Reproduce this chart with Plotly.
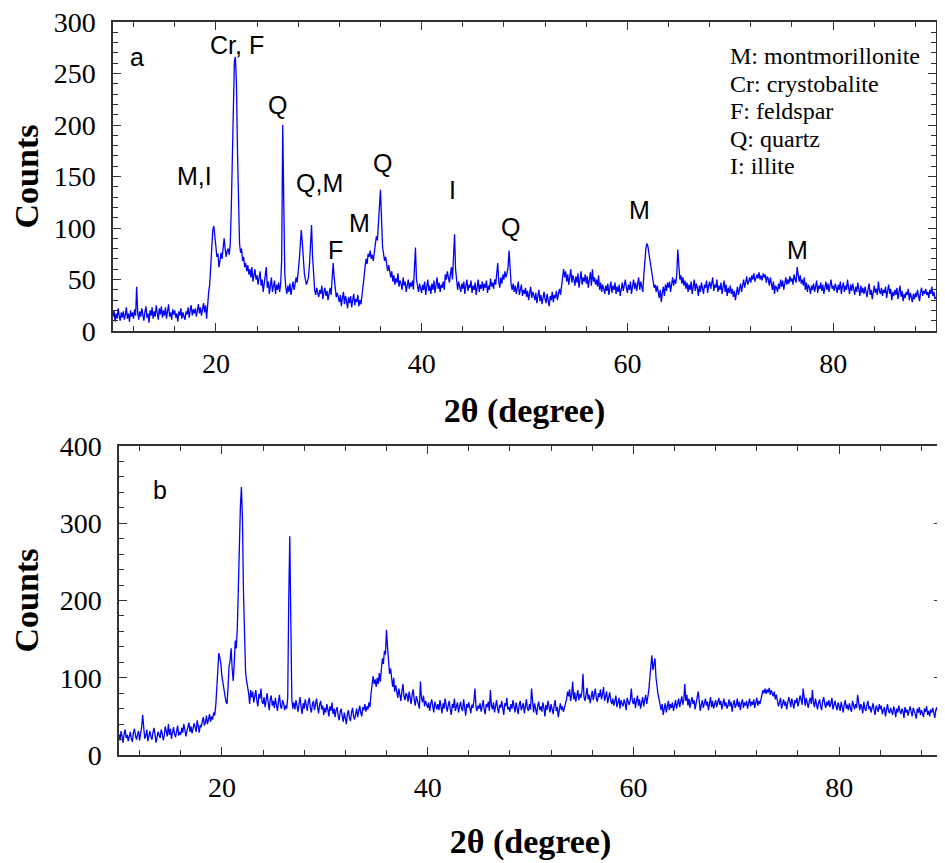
import numpy as np
import plotly.graph_objects as go

# XRD scans, 2theta from 10 to 90 deg in 0.1 deg steps
TWO_THETA_START = 10.0
TWO_THETA_STEP = 0.1

# (a) counts, one row per degree (10.0 ... 89.9) plus the last point at 90.0
COUNTS_A = [
    14, 20, 9, 17, 12, 22, 15, 10, 18, 13,
    19, 11, 16, 23, 12, 17, 9, 20, 14, 18,
    12, 21, 15, 43, 18, 11, 19, 14, 22, 16,
    10, 18, 24, 13, 17, 8, 20, 15, 23, 12,
    19, 14, 25, 17, 11, 22, 16, 24, 13, 20,
    15, 23, 12, 19, 26, 14, 18, 11, 21, 16,
    20, 13, 17, 9, 19, 15, 22, 12, 18, 14,
    11, 19, 16, 23, 13, 20, 25, 15, 21, 17,
    22, 14, 19, 26, 17, 23, 15, 21, 27, 18,
    25, 12, 30, 38, 45, 62, 80, 98, 102, 92,
    82, 72, 75, 62, 68, 76, 70, 85, 90, 80,
    72, 78, 80, 74, 85, 120, 175, 230, 262, 266,
    240, 175, 115, 85, 76, 80, 68, 72, 62, 66,
    58, 64, 55, 60, 52, 62, 48, 56, 60, 50,
    54, 45, 52, 58, 44, 50, 38, 47, 53, 62,
    42, 48, 36, 46, 52, 38, 44, 49, 36, 45,
    40, 47, 38, 46, 70, 200, 125, 55, 42, 36,
    44, 38, 46, 35, 42, 48, 40, 45, 52, 47,
    55, 68, 82, 98, 86, 66, 56, 50, 45, 48,
    52, 65, 90, 103, 72, 50, 40, 35, 42, 37,
    33, 40, 36, 44, 31, 38, 42, 34, 39, 30,
    37, 42, 35, 50, 66, 52, 40, 33, 37, 30,
    28, 35, 24, 32, 38, 26, 34, 29, 22, 33,
    27, 34, 23, 30, 36, 25, 31, 28, 35, 24,
    30, 26, 33, 40, 52, 62, 70, 65, 75, 72,
    78, 70, 74, 68, 76, 80, 92, 88, 105, 122,
    137, 110, 82, 75, 68, 72, 62, 58, 64, 55,
    52, 58, 48, 54, 45, 51, 47, 56, 43, 49,
    46, 40, 52, 44, 48, 38, 45, 50, 41, 47,
    43, 49, 40, 55, 81, 50, 42, 38, 46, 41,
    37, 45, 40, 48, 35, 43, 50, 39, 44, 36,
    46, 40, 49, 37, 44, 52, 41, 47, 38, 45,
    42, 48, 40, 55, 50, 58, 52, 47, 55, 62,
    50, 70, 94, 60, 45, 40, 48, 43, 38, 46,
    41, 48, 36, 44, 50, 39, 45, 42, 49, 37,
    44, 40, 47, 35, 43, 50, 38, 45, 41, 48,
    39, 46, 42, 49, 37, 44, 40, 51, 43, 47,
    41, 50, 45, 58, 66, 48, 42, 52, 46, 55,
    50, 58, 52, 56, 62, 78, 55, 45, 40, 46,
    38, 44, 36, 42, 48, 35, 41, 45, 34, 40,
    36, 42, 33, 39, 30, 37, 43, 32, 38, 35,
    30, 37, 27, 34, 40, 29, 35, 26, 33, 38,
    31, 27, 36, 29, 24, 34, 30, 38, 28, 35,
    32, 39, 30, 36, 41, 35, 43, 55, 60, 52,
    58, 48, 55, 45, 52, 60, 47, 54, 50, 44,
    53, 47, 56, 42, 50, 58, 45, 52, 48, 55,
    46, 53, 42, 50, 57, 44, 60, 48, 52, 45,
    50, 43, 54, 40, 47, 38, 45, 41, 36, 44,
    39, 46, 35, 42, 48, 37, 44, 40, 47, 36,
    43, 38, 45, 34, 41, 47, 39, 44, 50, 42,
    37, 45, 40, 48, 36, 43, 50, 41, 47, 39,
    45, 52, 40, 48, 43, 38, 55, 72, 80, 85,
    82, 75, 68, 62, 52, 48, 42, 45, 38, 44,
    36, 32, 40, 28, 37, 43, 34, 45, 39, 47,
    42, 48, 38, 45, 52, 44, 50, 46, 55, 79,
    58, 50, 54, 46, 52, 44, 49, 41, 47, 38,
    45, 40, 48, 36, 43, 50, 39, 46, 42, 34,
    44, 38, 47, 40, 36, 45, 42, 49, 37, 44,
    48, 41, 46, 52, 39, 45, 42, 50, 38, 44,
    40, 47, 36, 43, 49, 38, 45, 34, 42, 37,
    44, 36, 41, 33, 39, 30, 37, 43, 35, 40,
    46, 38, 44, 50, 42, 47, 53, 45, 49, 52,
    47, 54, 50, 56, 48, 53, 55, 51, 57, 50,
    54, 49, 56, 52, 55, 47, 53, 50, 44, 52,
    46, 40, 48, 36, 44, 42, 38, 46, 41, 50,
    43, 49, 40, 47, 52, 45, 50, 46, 53, 48,
    51, 45, 55, 50, 47, 62, 52, 48, 54, 46,
    50, 44, 52, 40, 47, 38, 45, 42, 36, 44,
    40, 46, 38, 43, 49, 37, 44, 41, 47, 39,
    45, 36, 42, 48, 40, 46, 38, 43, 50, 41,
    44, 39, 46, 42, 37, 45, 40, 48, 36, 43,
    47, 38, 44, 40, 50, 42, 36, 45, 39, 46,
    41, 35, 43, 38, 47, 40, 34, 44, 37, 42,
    36, 43, 39, 33, 41, 46, 35, 40, 31, 38,
    44, 37, 41, 35, 48, 39, 36, 42, 34, 40,
    37, 43, 32, 39, 45, 36, 41, 30, 38, 34,
    40, 35, 42, 31, 37, 44, 33, 39, 29, 36,
    32, 38, 35, 41, 30, 37, 33, 28, 36, 31,
    37, 33, 40, 35, 29, 38, 42, 34, 39, 36,
    41, 35, 38, 32, 40, 36, 43, 34, 38, 31,
    33,
]

# (b) counts, same grid
COUNTS_B = [
    27, 19, 31, 24, 16, 28, 33, 22, 26, 18,
    23, 30, 21, 17, 29, 34, 25, 20, 27, 31,
    19, 28, 36, 52, 30, 21, 25, 33, 18, 27,
    31, 24, 20, 29, 35, 27, 16, 23, 30, 26,
    22, 33, 28, 19, 25, 37, 30, 24, 40, 26,
    34, 21, 29, 36, 27, 23, 31, 38, 25, 30,
    26, 35, 29, 40, 33, 24, 31, 38, 42, 30,
    37, 28, 33, 41, 36, 30, 45, 35, 29, 39,
    36, 44, 49, 38, 42, 51, 40, 46, 53, 43,
    50, 46, 55, 51, 63, 85, 110, 132, 126, 118,
    102, 92, 80, 77, 69, 66, 88, 115, 122, 138,
    112, 96, 118, 148, 138, 165, 215, 285, 322, 347,
    305, 210, 135, 108, 96, 88, 80, 66, 84, 75,
    82, 68, 77, 84, 70, 63, 79, 73, 86, 69,
    66, 75, 62, 71, 80, 68, 58, 72, 77, 64,
    70, 61, 74, 65, 57, 69, 78, 63, 60, 71,
    67, 58, 64, 60, 74, 200, 283, 175, 72, 60,
    68, 59, 71, 64, 56, 66, 75, 62, 53, 67,
    60, 72, 65, 57, 69, 74, 61, 55, 66, 70,
    58, 67, 73, 62, 54, 65, 70, 59, 64, 52,
    61, 55, 66, 59, 50, 63, 57, 68, 53, 60,
    49, 58, 62, 51, 45, 56, 60, 50, 43, 55,
    47, 40, 53, 58, 48, 44, 55, 61, 50, 46,
    53, 60, 49, 57, 64, 55, 50, 62, 58, 66,
    56, 63, 59, 68, 62, 80, 90, 102, 92, 98,
    88, 100, 92, 106, 95, 112, 125, 118, 135, 130,
    162, 140, 120, 105, 112, 96, 88, 100, 82, 90,
    81, 74, 86, 79, 70, 83, 92, 76, 71, 80,
    77, 69, 82, 74, 66, 79, 85, 71, 64, 76,
    72, 66, 60, 95, 74, 68, 77, 63, 70, 65,
    61, 68, 57, 66, 72, 63, 55, 69, 64, 59,
    66, 58, 71, 63, 54, 67, 60, 73, 62, 56,
    64, 70, 59, 52, 66, 61, 73, 57, 63, 68,
    55, 64, 69, 60, 57, 72, 63, 51, 66, 61,
    68, 59, 54, 65, 61, 70, 86, 62, 57, 64,
    60, 67, 56, 63, 71, 58, 53, 66, 62, 69,
    57, 84, 64, 59, 68, 55, 62, 71, 60, 54,
    65, 61, 70, 58, 52, 67, 63, 74, 59, 62,
    56, 66, 60, 71, 64, 55, 68, 61, 53, 65,
    70, 58, 63, 67, 54, 61, 72, 60, 57, 66,
    59, 86, 62, 55, 67, 60, 52, 64, 69, 58,
    63, 56, 68, 61, 50, 65, 58, 70, 62, 55,
    66, 59, 53, 64, 71, 57, 62, 49, 60, 67,
    58, 63, 56, 61, 66, 72, 82, 76, 85, 70,
    78, 95, 72, 81, 69, 77, 84, 71, 79, 74,
    82, 105, 75, 70, 80, 87, 72, 78, 67, 76,
    83, 71, 77, 86, 73, 69, 80, 75, 85, 72,
    79, 88, 70, 76, 82, 67, 75, 81, 71, 66,
    73, 64, 70, 77, 62, 68, 74, 60, 71, 66,
    63, 72, 67, 58, 74, 69, 65, 71, 86, 70,
    66, 74, 61, 70, 77, 64, 72, 60, 68, 75,
    63, 70, 78, 66, 74, 84, 100, 122, 129, 110,
    118, 125, 100, 85, 78, 72, 65, 58, 66, 52,
    60, 67, 55, 64, 70, 58, 66, 61, 68, 57,
    63, 71, 60, 67, 73, 62, 69, 76, 65, 72,
    92, 70, 78, 64, 73, 61, 69, 75, 66, 71,
    59, 68, 74, 82, 70, 57, 65, 71, 61, 68,
    73, 64, 69, 58, 67, 75, 62, 70, 60, 66,
    71, 62, 68, 74, 65, 70, 59, 67, 73, 63,
    68, 60, 64, 72, 63, 69, 56, 66, 71, 61,
    65, 73, 62, 69, 58, 67, 72, 61, 68, 64,
    70, 60, 66, 73, 63, 69, 65, 72, 61, 68,
    74, 64, 70, 66, 73, 78, 84, 80, 86, 79,
    85, 81, 87, 78, 84, 80, 76, 82, 72, 78,
    71, 63, 68, 74, 60, 66, 72, 64, 69, 59,
    66, 75, 70, 62, 73, 64, 60, 71, 67, 74,
    63, 69, 77, 72, 65, 86, 70, 64, 74, 66,
    61, 70, 74, 66, 84, 68, 62, 73, 65, 59,
    67, 72, 63, 58, 70, 75, 66, 61, 69, 64,
    71, 62, 67, 74, 59, 65, 70, 63, 58, 68,
    64, 57, 69, 62, 55, 66, 71, 60, 65, 58,
    67, 60, 56, 70, 63, 59, 66, 61, 78, 64,
    58, 66, 62, 54, 69, 60, 57, 65, 70, 59,
    63, 55, 61, 67, 58, 52, 64, 60, 56, 66,
    59, 64, 53, 58, 62, 50, 60, 66, 57, 54,
    61, 56, 52, 63, 58, 49, 60, 55, 64, 57,
    53, 60, 57, 48, 62, 55, 59, 51, 58, 63,
    56, 50, 61, 58, 53, 47, 60, 55, 62, 52,
    58, 54, 49, 60, 56, 63, 52, 57, 50, 59,
    55, 61, 53, 48, 58, 62, 54, 50, 59, 56,
    55,
]

# phase labels on panel a: (2theta, counts, text)
PEAK_LABELS = [
    (17.97, 150.5, "M,I"),
    (22.05, 277.7, "Cr, F"),
    (26.03, 219.4, "Q"),
    (30.12, 143.7, "Q,M"),
    (31.67, 78.6, "F"),
    (34.0, 104.9, "M"),
    (36.24, 163.1, "Q"),
    (43.04, 136.9, "I"),
    (48.68, 101.0, "Q"),
    (61.2, 117.5, "M"),
    (76.57, 78.6, "M"),
]
KEY_LINES = ["M: montmorillonite", "Cr: crystobalite", "F: feldspar", "Q: quartz", "I: illite"]
KEY_Y = [267, 240, 213.5, 186.5, 160]

W, H = 945, 863
OFF = 8  # the page body has a default 8px margin, shift the plot areas back by it
OFF_Y = 1  # vertically keep a little room so the top "300" label is not cut


def xdom(left, right):
    return [(left - OFF) / W, (right - OFF) / W]


def ydom(top, bottom):
    return [1 - (bottom - OFF_Y) / H, 1 - (top - OFF_Y) / H]


two_theta = np.round(TWO_THETA_START + TWO_THETA_STEP * np.arange(len(COUNTS_A)), 1)

fig = go.Figure()
fig.add_trace(go.Scatter(x=two_theta, y=COUNTS_A, mode="lines",
                         line=dict(color="#0000ff", width=1.3), xaxis="x", yaxis="y"))
fig.add_trace(go.Scatter(x=two_theta, y=COUNTS_B, mode="lines",
                         line=dict(color="#0000ff", width=1.3), xaxis="x2", yaxis="y2"))

serif = "Liberation Serif, Times New Roman, serif"
sans = "Liberation Sans, Arial, sans-serif"
axis_common = dict(
    showline=True, linecolor="#333333", linewidth=1.5, mirror="ticks",
    ticks="inside", ticklen=8, tickwidth=1.2, tickcolor="#333333",
    showgrid=False, zeroline=False, automargin=False, ticklabeloverflow="allow",
    tickfont=dict(family=serif, size=28, color="black"),
)
title_font = dict(family=serif, size=34, color="black")
minor_x = dict(dtick=4, ticks="inside", ticklen=5, tickcolor="#333333")

fig.update_layout(
    width=W, height=H,
    margin=dict(l=0, r=0, t=0, b=0),
    paper_bgcolor="white", plot_bgcolor="white",
    showlegend=False,
    xaxis=dict(domain=xdom(113, 936), range=[10, 90], dtick=20, anchor="y", minor=minor_x,
               ticklabelstandoff=7,
               title=dict(text="<b>2θ (degree)</b>", font=title_font, standoff=20),
               **axis_common),
    yaxis=dict(domain=ydom(15, 324), range=[0, 300], dtick=50, anchor="x",
               minor=dict(dtick=10, ticks="inside", ticklen=5, tickcolor="#333333"),
               ticklabelstandoff=10,
               title=dict(text="<b>Counts</b>", font=title_font, standoff=25),
               **axis_common),
    xaxis2=dict(domain=xdom(119, 942), range=[10, 90], dtick=20, anchor="y2", minor=minor_x,
                ticklabelstandoff=7,
                title=dict(text="<b>2θ (degree)</b>", font=title_font, standoff=27),
                **axis_common),
    yaxis2=dict(domain=ydom(439, 748), range=[0, 400], dtick=100, anchor="x2",
                minor=dict(dtick=20, ticks="inside", ticklen=5, tickcolor="#333333"),
                ticklabelstandoff=10,
                title=dict(text="<b>Counts</b>", font=title_font, standoff=25),
                **axis_common),
)

ann = []
ann.append(dict(x=12.33, y=266, xref="x", yref="y", text="a", showarrow=False,
                font=dict(family=sans, size=25, color="black")))
ann.append(dict(x=13.98, y=343, xref="x2", yref="y2", text="b", showarrow=False,
                font=dict(family=sans, size=25, color="black")))
for x, y, t in PEAK_LABELS:
    ann.append(dict(x=x, y=y, xref="x", yref="y", text=t, showarrow=False,
                    font=dict(family=sans, size=25, color="black")))
for y, t in zip(KEY_Y, KEY_LINES):
    ann.append(dict(x=69.77, y=y, xref="x", yref="y", xanchor="left", yanchor="middle",
                    text=t, showarrow=False,
                    font=dict(family=serif, size=24, color="black")))
fig.update_layout(annotations=ann)

fig.write_html("out.html")
